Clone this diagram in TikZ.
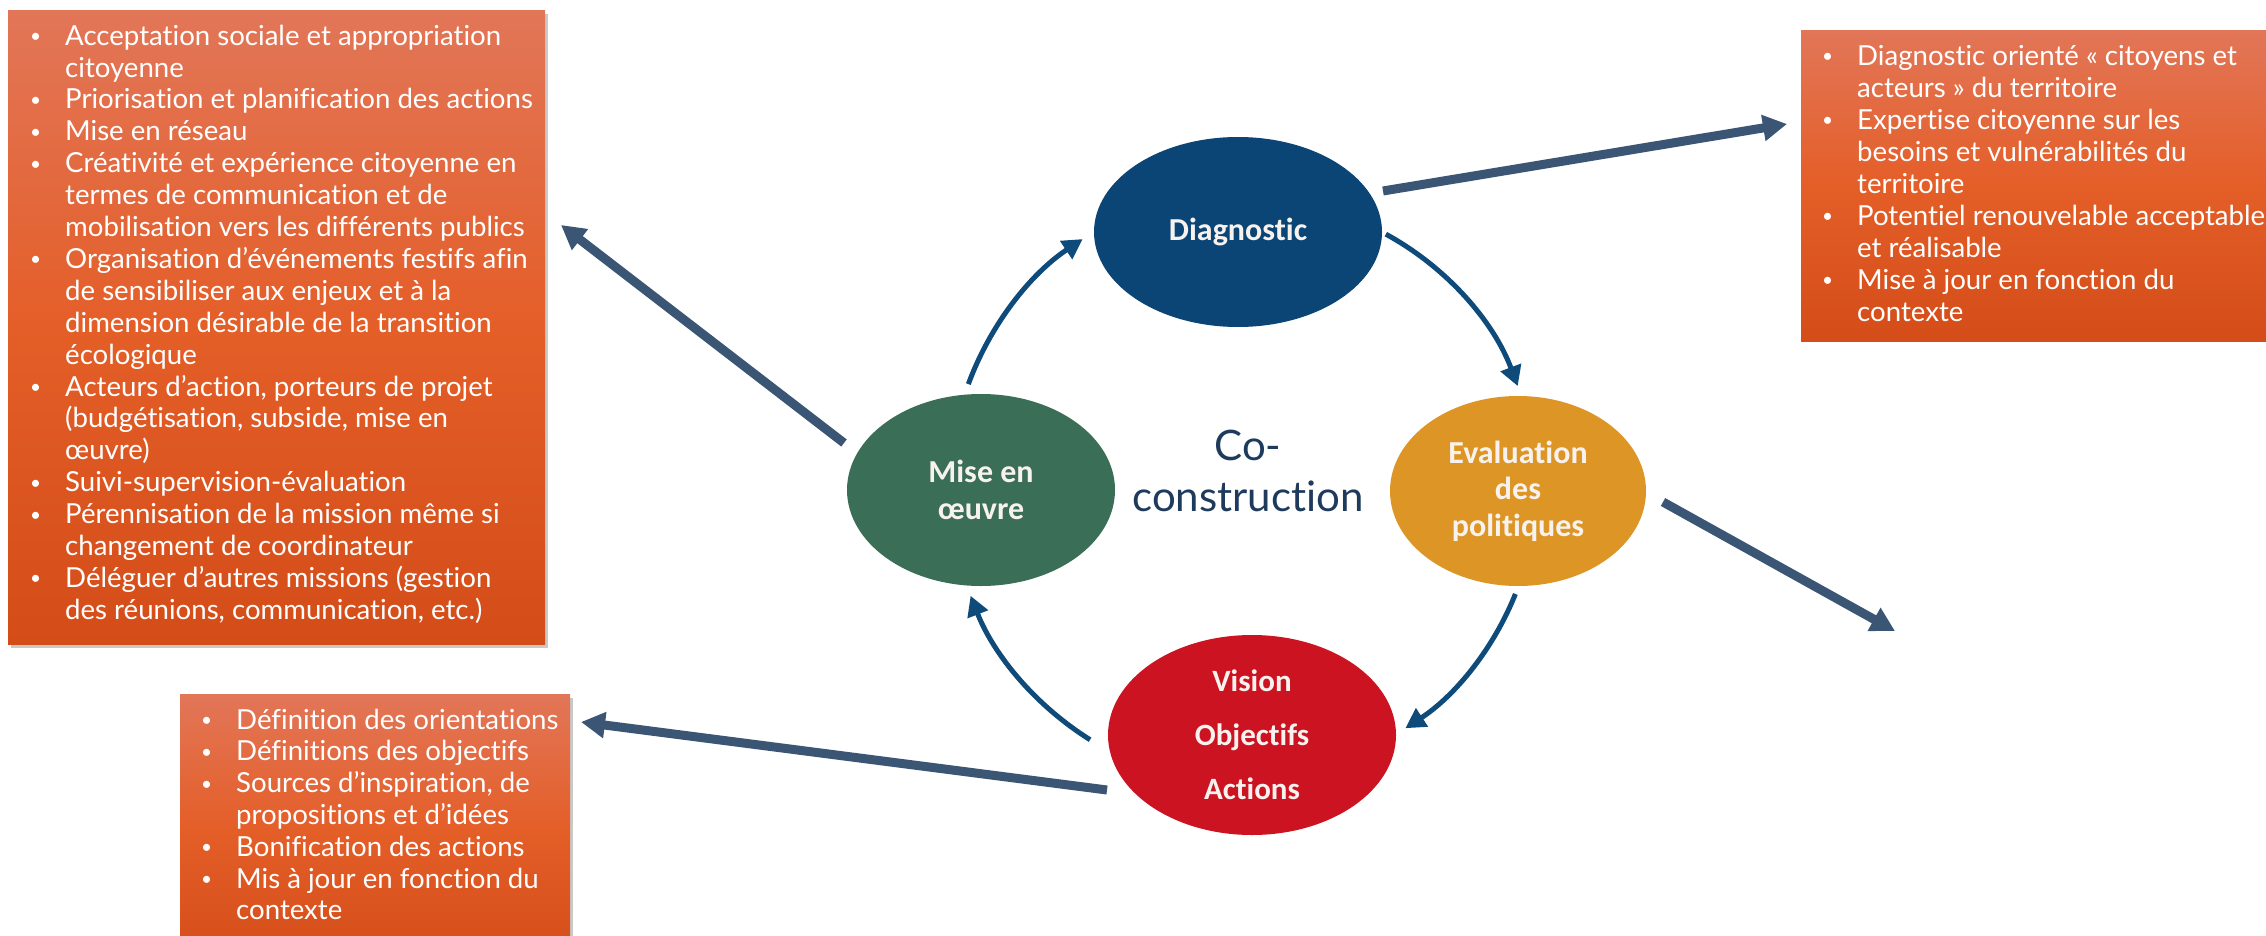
\documentclass[tikz,border=0pt]{standalone}
\usepackage{fontspec}
\setmainfont{Lato}[Ligatures=NoCommon]
\newfontfamily\ellfont{Carlito}[Ligatures=NoCommon]
\usetikzlibrary{shapes.geometric,arrows.meta,shadows,calc}

\definecolor{boxtop}{RGB}{226,118,88}
\definecolor{boxmid}{RGB}{228,94,40}
\definecolor{boxbot}{RGB}{212,77,25}
\definecolor{diagc}{RGB}{11,69,117}
\definecolor{misec}{RGB}{58,110,86}
\definecolor{evalc}{RGB}{221,149,38}
\definecolor{visc}{RGB}{204,19,33}
\definecolor{cyca}{RGB}{14,74,122}
\definecolor{biga}{RGB}{59,85,116}
\definecolor{cotext}{RGB}{30,58,92}
\definecolor{elltext}{RGB}{247,242,238}

\newcommand\bul{\makebox[36pt][l]{\hspace*{1pt}\raisebox{2.6pt}{\fontsize{19}{19}\selectfont •}}}
\newcommand\ind{\hspace*{36pt}}

\begin{document}
\begin{tikzpicture}[x=1pt,y=-1pt,
  boxbg/.style={rectangle, inner sep=0pt, anchor=north west, top color=boxtop, bottom color=boxbot, middle color=boxmid},
  shadowed/.style={drop shadow={shadow xshift=3pt, shadow yshift=-4pt, opacity=0.35, fill=black!60}},
  boxtext/.style={anchor=north west, inner sep=0pt, text=white, align=left},
  stage/.style={ellipse, inner sep=0pt, text=elltext, align=center},
  cyc/.style={draw=cyca, line width=5pt, -{Triangle[length=20pt,width=21pt]}},
  big/.style={draw=biga, line width=9pt, -{Triangle[length=24pt,width=25pt]}},
]
\clip (0,0) rectangle (2266,936);
\fill[white] (0,0) rectangle (2266,936);

% ---------- boxes ----------
\node[boxbg, shadowed, minimum width=537pt, minimum height=634pt] (leftbox) at (8,10) {};
\node[boxtext, font=\fontsize{27.6}{31.9}\selectfont] (lefttext) at (29,22.6) {%
\setlength{\tabcolsep}{0pt}%
\begin{tabular}{@{}l@{}}
\bul Acceptation sociale et appropriation\\
\ind citoyenne\\
\bul Priorisation et planification des actions\\
\bul Mise en réseau\\
\bul Créativité et expérience citoyenne en\\
\ind termes de communication et de\\
\ind mobilisation vers les différents publics\\
\bul Organisation d’événements festifs afin\\
\ind de sensibiliser aux enjeux et à la\\
\ind dimension désirable de la transition\\
\ind écologique\\
\bul Acteurs d’action, porteurs de projet\\
\ind (budgétisation, subside, mise en\\
\ind œuvre)\\
\bul Suivi-supervision-évaluation\\
\bul Pérennisation de la mission même si\\
\ind changement de coordinateur\\
\bul Déléguer d’autres missions (gestion\\
\ind des réunions, communication, etc.)
\end{tabular}};

\node[boxbg, minimum width=489pt, minimum height=311pt] (trbox) at (1801,30) {};
\node[boxtext, font=\fontsize{27.6}{32}\selectfont] (trtext) at (1821,42.6) {%
\setlength{\tabcolsep}{0pt}%
\begin{tabular}{@{}l@{}}
\bul Diagnostic orienté « citoyens et\\
\ind acteurs » du territoire\\
\bul Expertise citoyenne sur les\\
\ind besoins et vulnérabilités du\\
\ind territoire\\
\bul Potentiel renouvelable acceptable\\
\ind et réalisable\\
\bul Mise à jour en fonction du\\
\ind contexte
\end{tabular}};

\node[boxbg, shadowed, minimum width=390pt, minimum height=270pt] (botbox) at (180,694) {};
\node[boxtext, font=\fontsize{27.6}{31.8}\selectfont] (bottext) at (200,706.6) {%
\setlength{\tabcolsep}{0pt}%
\begin{tabular}{@{}l@{}}
\bul Définition des orientations\\
\bul Définitions des objectifs\\
\bul Sources d’inspiration, de\\
\ind propositions et d’idées\\
\bul Bonification des actions\\
\bul Mis à jour en fonction du\\
\ind contexte
\end{tabular}};

% ---------- cycle ----------
\node[stage, fill=diagc, minimum width=288pt, minimum height=190pt,
      font=\ellfont\bfseries\fontsize{32}{37}\selectfont] (diag) at (1238,232) {Diagnostic};
\node[stage, fill=misec, minimum width=268pt, minimum height=192pt,
      font=\ellfont\bfseries\fontsize{32}{37}\selectfont] (mise) at (981,490) {Mise en\\œuvre};
\node[stage, fill=evalc, minimum width=256pt, minimum height=190pt,
      font=\ellfont\bfseries\fontsize{32}{36.5}\selectfont] (eval) at (1518,491) {Evaluation\\des\\politiques};
\node[stage, fill=visc, minimum width=288pt, minimum height=200pt,
      font=\ellfont\bfseries\fontsize{31}{54}\selectfont] (vis) at (1252,735) {Vision\\Objectifs\\Actions};
\node[font=\fontsize{42}{51}\selectfont, text=cotext, align=center, inner sep=0pt] (co) at (1248,471) {Co-\\construction};

\coordinate (C) at (1248,487);
\coordinate (c1s) at ($(C)+(-159.8:298)$);
\coordinate (c2s) at ($(C)+(-61.4:288)$);
\coordinate (c3s) at ($(C)+(21.8:288)$);
\coordinate (c4s) at ($(C)+(122:298)$);
\draw[cyc] (c1s) arc[start angle=-159.8, end angle=-123.7, radius=298];
\draw[cyc] (c2s) arc[start angle=-61.4, end angle=-20.5, radius=288];
\draw[cyc] (c3s) arc[start angle=21.8, end angle=56.9, radius=288];
\draw[cyc] (c4s) arc[start angle=122, end angle=158.6, radius=298];

% ---------- long arrows ----------
\coordinate (dA) at (1383,191);
\coordinate (tA) at (1787,124);
\coordinate (eB) at (1663,502);
\coordinate (tB) at (1895,631);
\coordinate (mC) at (844,443);
\coordinate (tC) at (561,225);
\coordinate (vD) at (1107,790);
\coordinate (tD) at (581,722);
\draw[big] (dA) -- (tA);
\draw[big] (eB) -- (tB);
\draw[big] (mC) -- (tC);
\draw[big] (vD) -- (tD);
\end{tikzpicture}
\end{document}
